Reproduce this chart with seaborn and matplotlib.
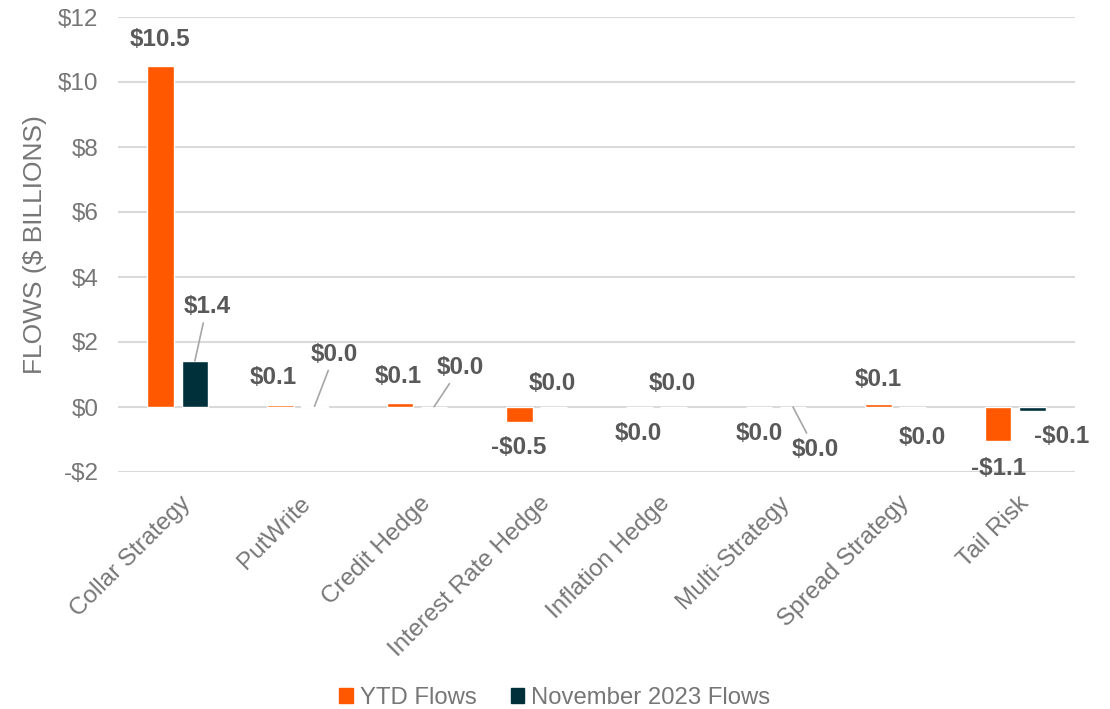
import numpy as np
import pandas as pd
import matplotlib
matplotlib.use('Agg')
import matplotlib.pyplot as plt
import matplotlib.transforms as mtransforms
import seaborn as sns

categories = ['Collar Strategy', 'PutWrite', 'Credit Hedge', 'Interest Rate Hedge',
              'Inflation Hedge', 'Multi-Strategy', 'Spread Strategy', 'Tail Risk']
ytd_flows = [10.5, 0.06, 0.13, -0.46, 0.0, 0.0, 0.08, -1.06]
nov_flows = [1.42, 0.02, 0.01, 0.0, 0.0, 0.0, 0.0, -0.12]
series = ['YTD Flows', 'November 2023 Flows']
y_ticks = [-2, 0, 2, 4, 6, 8, 10, 12]

df = pd.DataFrame({
    'category': categories * 2,
    'series': [series[0]] * len(categories) + [series[1]] * len(categories),
    'value': ytd_flows + nov_flows,
})

# label offsets in pixels from the bar end (dx, dy), and whether a leader line is drawn
ytd_offsets = [(-1, 26, False), (-7, 28, False), (-2, 26, False), (-1, -26, False),
               (-1, -27, False), (0, -27, False), (0, 25, False), (0, -27, False)]
nov_offsets = [(12, 54, True), (20, 52, True), (26, 39, True), (-1, 24, False),
               (-1, 24, False), (22, -42, True), (10, -30, False), (29, -26, False)]

orange = '#FF5800'
dark = '#00303A'
grey = '#595959'
light_grey = '#767676'

sns.set_theme(style='white')
plt.rcParams['font.family'] = ['Liberation Sans', 'DejaVu Sans']

fig = plt.figure(figsize=(11.1, 7.09), dpi=100)
ax = fig.add_axes([118 / 1110, 1 - 472 / 709, (1075 - 118) / 1110, (472 - 17) / 709])

sns.barplot(data=df, x='category', y='value', hue='series', hue_order=series,
            palette=[orange, dark], width=0.57, gap=0.22, ax=ax, legend=False,
            saturation=1, errorbar=None)

ax.set_ylim(-2, 12)
ax.set_xlim(-0.5, len(categories) - 0.5)
ax.set_yticks(y_ticks)
ax.set_yticklabels([('-$%d' % -t) if t < 0 else ('$%d' % t) for t in y_ticks])
ax.yaxis.grid(True, color='#D9D9D9', linewidth=1.5)
ax.set_axisbelow(True)
for s in ax.spines.values():
    s.set_visible(False)
ax.tick_params(axis='both', length=0, labelsize=17.5, colors=light_grey)
ax.tick_params(axis='y', pad=14)
ax.tick_params(axis='x', pad=0)
ax.set_xlabel('')
ax.set_ylabel('FLOWS ($ BILLIONS)', fontsize=19, color=light_grey, labelpad=8)

offset = mtransforms.ScaledTranslation(10 / 100, -28 / 100, fig.dpi_scale_trans)
for lab in ax.get_xticklabels():
    lab.set_rotation(45)
    lab.set_ha('right')
    lab.set_va('center')
    lab.set_rotation_mode('anchor')
    lab.set_transform(lab.get_transform() + offset)

def fmt(v):
    s = '%.1f' % abs(v)
    return ('-$' + s) if v < 0 else ('$' + s)

for cont, vals, offs in zip(ax.containers, [ytd_flows, nov_flows], [ytd_offsets, nov_offsets]):
    for bar, v, (dx, dy, leader) in zip(cont, vals, offs):
        x = bar.get_x() + bar.get_width() / 2
        kw = {}
        if leader:
            kw['arrowprops'] = dict(arrowstyle='-', color='#A6A6A6', lw=1.2,
                                    shrinkA=1, shrinkB=0)
        ax.annotate(fmt(v), xy=(x, v), xytext=(dx, dy), textcoords='offset pixels',
                    ha='center', va='center', fontsize=17.5, fontweight='bold',
                    color=grey, **kw)

handles = [plt.Rectangle((0, 0), 1, 1, color=c) for c in [orange, dark]]
fig.legend(handles, series, loc='lower center', bbox_to_anchor=(0.5, -0.03), ncol=2,
           frameon=False, fontsize=17.2, labelcolor=light_grey, handlelength=0.55,
           handleheight=0.55, handletextpad=0.3, columnspacing=1.45)

fig.savefig('out.png', dpi=100)
